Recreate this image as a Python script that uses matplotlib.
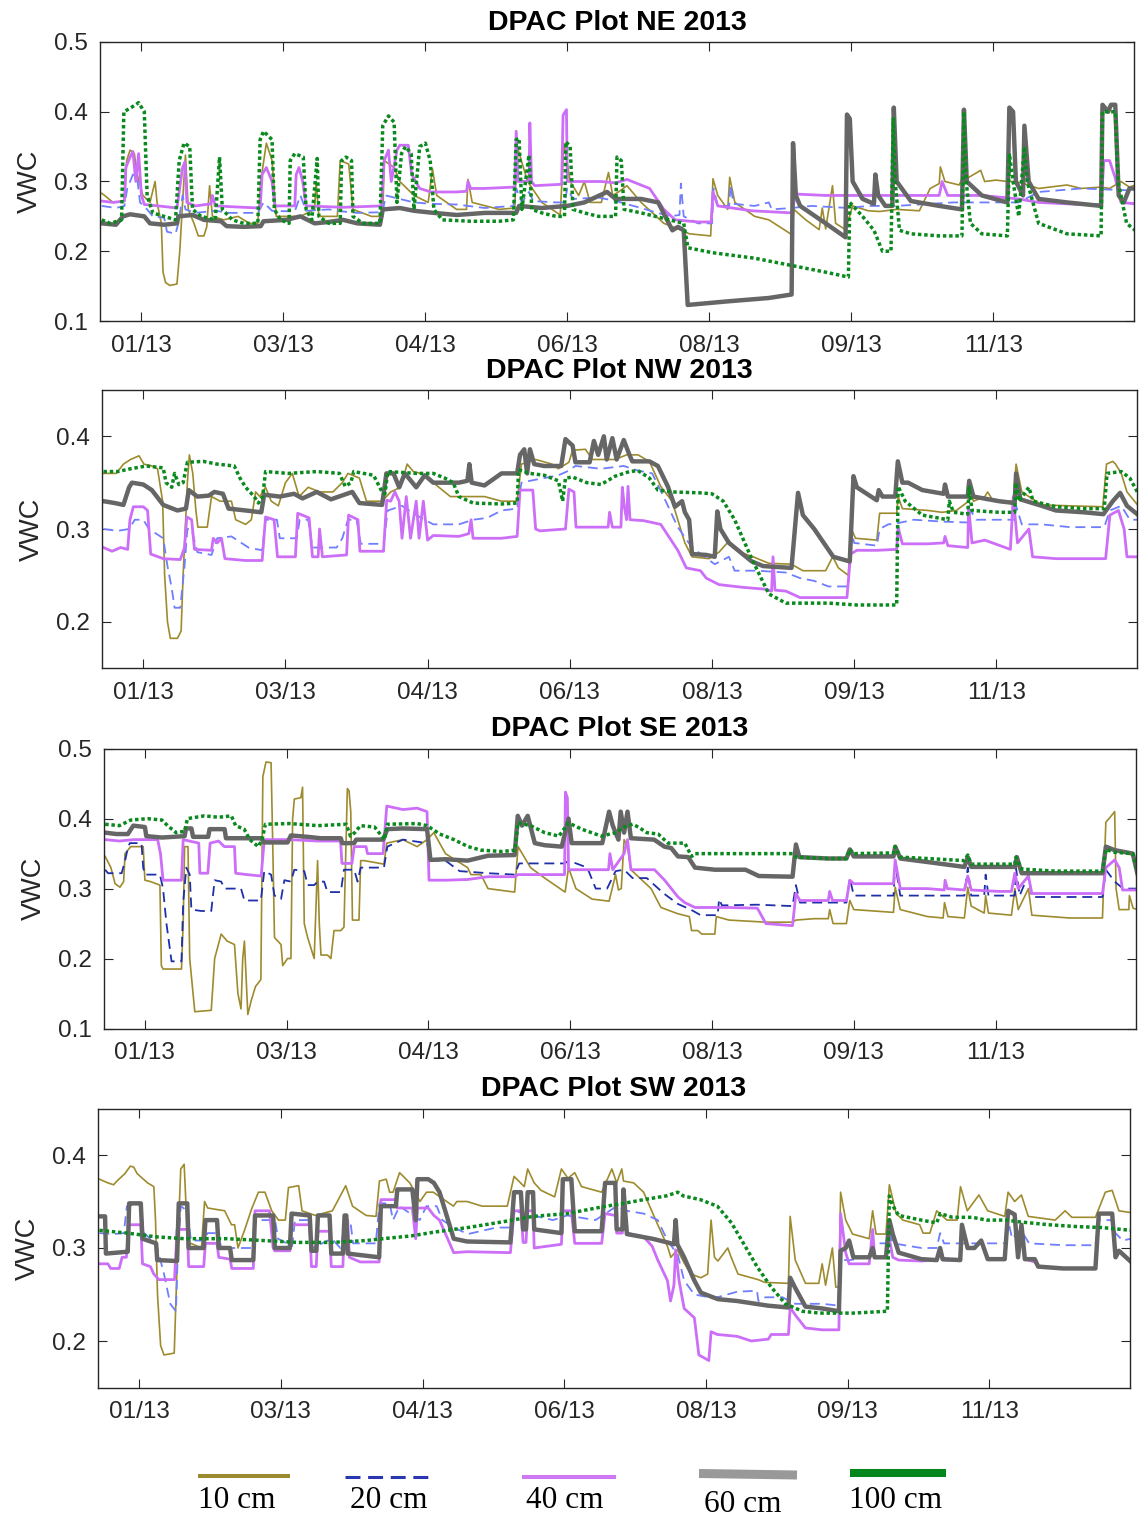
import numpy as np
import matplotlib
matplotlib.use("Agg")
import matplotlib.pyplot as plt
import matplotlib.dates as mdates
from matplotlib.lines import Line2D
from matplotlib.ticker import FixedLocator

# ---------------------------------------------------------------------------
# Volumetric water content (VWC) by sensor depth, 2013.
# Each series is a list of (day of year counted from 1 Jan 2013, VWC).
# ---------------------------------------------------------------------------
DEPTH_LABELS = ["10 cm", "20 cm", "40 cm", "60 cm", "100 cm"]
PLOT_TITLES = ["DPAC Plot NE 2013", "DPAC Plot NW 2013",
               "DPAC Plot SE 2013", "DPAC Plot SW 2013"]
X_TICK_LABELS = ["01/13", "03/13", "04/13", "06/13", "08/13", "09/13", "11/13"]
Y_TICKS_WIDE = [0.1, 0.2, 0.3, 0.4, 0.5]
Y_TICKS_NARROW = [0.2, 0.3, 0.4]

# ----------------------------- Plot NE -------------------------------------
NE_10 = [(0,0.283),(1,0.28),(4,0.27),(8,0.272),(8.8,0.33),(10,0.345),(11.5,0.34),(12.5,0.31),(14.5,0.28),(17,0.27),
         (18.8,0.3),(19.5,0.27),(21,0.24),(21.6,0.17),(22.5,0.155),(24,0.151),(26.5,0.153),(27.5,0.2),(28.2,0.25),(29.5,0.338),
         (30.5,0.26),(32.5,0.24),(34,0.222),(36,0.222),(37,0.235),(38,0.294),(39,0.25),(43,0.245),(48,0.25),(52,0.24),
         (55,0.24),(56,0.3),(58,0.355),(60,0.33),(61.5,0.25),(66,0.25),(70,0.25),(75,0.26),(75.5,0.3),(76.5,0.25),
         (83,0.25),(84,0.33),(87,0.325),(88.5,0.26),(95,0.25),(99,0.25),(99.5,0.33),(103,0.32),(105,0.3),(110,0.28),
         (115,0.27),(116.5,0.318),(118,0.28),(125,0.26),(128.5,0.26),(129,0.303),(130.5,0.27),(140,0.26),(145.5,0.262),(146.2,0.352),
         (150,0.3),(155,0.27),(161.5,0.252),(162.8,0.355),(165,0.3),(168,0.28),(170,0.3),(172,0.27),(176,0.27),(178.5,0.313),
         (180,0.28),(182,0.285),(185,0.294),(190,0.27),(198,0.24),(203,0.232),(207,0.225),(214.5,0.222),(215.3,0.304),(217,0.28),
         (220.5,0.26),(221.2,0.306),(223,0.27),(230,0.25),(235,0.245),(243,0.224),(243.8,0.26),(248,0.245),(252.7,0.231),(253.8,0.262),
         (255,0.232),(257.4,0.294),(258.5,0.24),(262,0.231),(264.5,0.265),(270,0.258),(274,0.257),(280,0.26),(288,0.258),(291.8,0.29),
         (295,0.297),(295.4,0.321),(297,0.3),(302,0.295),(303.7,0.309),(305,0.305),(309.6,0.316),(311,0.3),(315,0.302),(319,0.3),
         (321,0.3),(324,0.298),(330,0.29),(340,0.295),(345,0.29),(352,0.292),(355,0.29),(359,0.3),(362,0.292),(364,0.295)]
NE_20 = [(0,0.265),(5,0.262),(8,0.265),(9,0.29),(11,0.31),(12.5,0.305),(13.5,0.27),(16,0.26),(18,0.25),(22,0.248),
         (23,0.228),(26,0.225),(27,0.24),(28.5,0.28),(29.5,0.26),(33,0.255),(40,0.258),(45,0.255),(55,0.255),(57,0.27),
         (60,0.258),(68,0.257),(70,0.28),(72,0.258),(80,0.26),(85,0.257),(90,0.255),(99,0.256),(100,0.28),(105,0.275),
         (110,0.27),(116,0.268),(125,0.267),(135,0.262),(145,0.265),(146,0.29),(148,0.27),(150.5,0.285),(152,0.272),(160,0.27),
         (163,0.27),(164,0.29),(166,0.275),(175,0.277),(181,0.272),(190,0.262),(200,0.25),(203.5,0.252),(204,0.297),(205,0.25),
         (210,0.24),(215,0.24),(215.5,0.29),(217,0.265),(221,0.265),(221.5,0.295),(222.5,0.268),(230,0.265),(235,0.27),(236,0.26),
         (243,0.262),(250,0.265),(263,0.262),(270,0.265),(280,0.265),(300,0.27),(310,0.27),(323,0.27),(330,0.285),(345,0.29),
         (364,0.287)]
NE_40 = [(0,0.272),(4,0.27),(8,0.272),(8.5,0.32),(10,0.335),(11,0.343),(12,0.3),(13,0.34),(14,0.28),(15,0.267),
         (20,0.265),(26.5,0.262),(28.5,0.32),(29.3,0.328),(30,0.27),(33,0.265),(38.5,0.268),(39,0.28),(40,0.265),(50,0.263),
         (55.8,0.262),(56.5,0.31),(58,0.32),(60,0.3),(61,0.265),(68,0.265),(68.5,0.31),(69.5,0.32),(70.8,0.3),(72,0.265),
         (85,0.263),(98.5,0.265),(99.5,0.33),(101,0.345),(102,0.3),(104,0.345),(105,0.352),(108,0.352),(109.2,0.31),(112,0.29),
         (116,0.285),(125,0.285),(128.5,0.286),(129,0.3),(130,0.29),(134.5,0.29),(145.5,0.292),(146,0.372),(146.6,0.3),(150.5,0.3),
         (150.8,0.384),(151.4,0.3),(152.5,0.294),(162,0.296),(162.5,0.395),(163.7,0.403),(164,0.3),(176,0.3),(181,0.298),(185,0.303),
         (193,0.29),(198,0.26),(202,0.245),(210,0.242),(214.7,0.242),(215.3,0.285),(217,0.265),(229,0.258),(243,0.255),(244.5,0.282),
         (255,0.28),(265,0.28),(280,0.28),(295,0.28),(296,0.3),(298,0.28),(310,0.28),(323,0.275),(330,0.27),(345,0.267),
         (352,0.267),(353,0.33),(355,0.33),(357,0.305),(359,0.27),(364,0.268)]
NE_60 = [(0,0.24),(5,0.238),(7.5,0.25),(10,0.253),(15,0.25),(17,0.24),(22,0.238),(26.5,0.24),(27,0.25),(32,0.252),
         (36,0.245),(42,0.243),(44,0.236),(50,0.235),(56,0.236),(57,0.243),(65,0.245),(70,0.25),(75,0.24),(80,0.242),
         (85,0.245),(90,0.24),(98,0.238),(99,0.26),(105,0.262),(110,0.258),(117,0.255),(125,0.252),(135,0.255),(146,0.255),
         (147,0.265),(155,0.262),(164,0.265),(170,0.27),(178,0.285),(181,0.275),(190,0.275),(196,0.27),(201,0.23),(203,0.235),
         (205,0.23),(206.4,0.123),(220,0.128),(235,0.133),(243,0.138),(243.5,0.355),(244.5,0.28),(246,0.265),(255,0.24),(262,0.22),
         (262.5,0.396),(263.5,0.39),(264.5,0.3),(268,0.275),(272,0.268),(272.5,0.31),(273.5,0.28),(276,0.265),(278.5,0.265),(279,0.406),
         (280,0.3),(285,0.272),(295,0.265),(303,0.26),(303.7,0.403),(304.7,0.3),(310,0.28),(319,0.27),(319.7,0.406),(321,0.4),
         (322,0.3),(324.5,0.28),(325,0.38),(326.5,0.3),(330,0.275),(340,0.27),(352,0.265),(352.5,0.41),(354.5,0.40),(355.5,0.41),
         (357,0.41),(358.2,0.28),(360,0.27),(362,0.29),(364,0.29)]
NE_100 = [(0,0.245),(3,0.24),(7,0.245),(7.8,0.40),(10,0.405),(13,0.413),(15,0.40),(16,0.28),(18,0.255),(22,0.25),
          (26,0.245),(27.3,0.33),(29,0.355),(31,0.35),(32,0.26),(35,0.25),(40,0.245),(41.5,0.335),(42.5,0.26),(46,0.245),
          (50,0.24),(55,0.24),(55.8,0.36),(57,0.372),(60,0.36),(60.8,0.26),(63,0.245),(66,0.24),(66.4,0.33),(68,0.34),
          (71,0.335),(72,0.26),(74,0.245),(75.9,0.333),(76.5,0.25),(80,0.24),(84,0.24),(84.5,0.33),(86,0.335),(88,0.33),
          (88.5,0.25),(92,0.24),(98,0.24),(99,0.38),(101,0.394),(103,0.385),(104,0.27),(105.6,0.34),(107,0.35),(109,0.34),
          (110,0.26),(112,0.35),(114,0.355),(115.7,0.33),(117,0.26),(120,0.245),(130,0.243),(140,0.243),(145,0.245),(146,0.36),
          (147,0.362),(148,0.26),(150.5,0.338),(151.5,0.26),(155,0.255),(160,0.25),(163,0.25),(163.5,0.357),(165,0.35),(166,0.26),
          (170,0.255),(175,0.25),(181,0.25),(181.5,0.335),(183,0.33),(184,0.26),(190,0.255),(200,0.245),(205,0.24),(206.5,0.205),
          (215,0.198),(230,0.19),(245,0.178),(255,0.17),(263,0.163),(263.5,0.27),(268,0.25),(272,0.23),(275,0.2),(278,0.2),
          (278.8,0.39),(279.5,0.3),(281,0.23),(285,0.225),(295,0.222),(303,0.222),(303.7,0.40),(304.5,0.3),(306,0.24),(310,0.225),
          (319,0.222),(319.7,0.34),(321,0.3),(323,0.25),(325,0.35),(326,0.3),(330,0.24),(340,0.225),(352,0.222),(352.5,0.40),
          (357,0.40),(358,0.3),(361,0.24),(364,0.23)]

# ----------------------------- Plot NW -------------------------------------
NW_10 = [(0,0.36),(4.5,0.36),(7,0.37),(9.5,0.375),(12.5,0.379),(14.2,0.37),(17,0.368),(19,0.365),(20.8,0.33),(21.5,0.25),
         (22.5,0.2),(23.5,0.182),(26,0.182),(27.3,0.19),(28,0.25),(29.5,0.35),(30.2,0.38),(31.4,0.36),(32.5,0.32),(33.2,0.302),
         (36.5,0.302),(38,0.335),(41,0.33),(45,0.33),(46.5,0.31),(50,0.305),(52,0.31),(53.5,0.34),(55,0.335),(57,0.345),
         (59,0.33),(61.5,0.325),(64,0.35),(66.4,0.36),(68.8,0.335),(72,0.345),(76,0.34),(80.7,0.34),(84,0.35),(86,0.36),
         (90,0.355),(92.5,0.33),(98,0.33),(101,0.34),(104.5,0.345),(106.8,0.37),(109,0.362),(111.5,0.36),(116,0.35),(120,0.34),
         (122,0.335),(128,0.335),(134,0.335),(140,0.33),(145.5,0.33),(147,0.37),(152,0.375),(157.8,0.37),(160,0.365),(163.7,0.372),
         (165,0.385),(169.5,0.386),(172,0.375),(180,0.375),(184,0.38),(188,0.38),(192,0.373),(196,0.346),(200,0.33),(202,0.31),
         (204.5,0.285),(207,0.27),(213,0.268),(216.5,0.275),(220,0.287),(223.8,0.275),(228.5,0.27),(234,0.263),(242,0.262),(246,0.255),
         (254,0.255),(256.5,0.27),(258.5,0.258),(262,0.25),(262.8,0.302),(264.5,0.29),(272,0.288),(273,0.317),(279,0.317),(279.5,0.335),
         (281,0.322),(290,0.32),(295,0.318),(300,0.32),(304.3,0.33),(305,0.342),(306,0.33),(310,0.335),(311,0.34),(313,0.33),
         (320,0.33),(321,0.37),(323,0.34),(330,0.326),(340,0.325),(351.5,0.324),(352.8,0.37),(355,0.373),(356,0.37),(358,0.36),
         (360,0.34),(364,0.325)]
NW_20 = [(0,0.3),(5,0.298),(9,0.3),(11,0.31),(14,0.31),(16,0.3),(21,0.29),(22.5,0.26),(24,0.236),(25,0.215),
         (27,0.215),(28.5,0.26),(29.5,0.3),(31,0.3),(33,0.275),(38,0.272),(40,0.29),(45,0.292),(51,0.28),(55.8,0.277),
         (57,0.31),(61,0.31),(62,0.29),(68,0.29),(69,0.31),(72,0.31),(73.5,0.28),(82,0.28),(84,0.29),(86,0.31),
         (89,0.31),(90.5,0.284),(98.5,0.284),(100,0.32),(105,0.325),(110,0.315),(116,0.305),(125,0.305),(130,0.31),(135,0.312),
         (140,0.32),(145.5,0.322),(147,0.35),(150,0.352),(155,0.355),(160,0.358),(163,0.362),(166,0.368),(175,0.365),(183,0.368),
         (188,0.363),(193,0.36),(197,0.335),(202,0.302),(207,0.28),(215,0.262),(220,0.27),(222,0.255),(230,0.255),(240,0.253),
         (245,0.247),(250,0.244),(255,0.238),(262,0.238),(263,0.3),(264,0.285),(272,0.282),(273,0.3),(276,0.305),(279,0.306),
         (285,0.31),(295,0.308),(304,0.307),(305,0.32),(307,0.31),(315,0.31),(320.5,0.31),(321,0.325),(323,0.305),(330,0.305),
         (340,0.302),(352,0.302),(354,0.32),(358,0.325),(361,0.31),(364,0.31)]
NW_40 = [(0,0.28),(3,0.276),(6,0.28),(8.5,0.278),(9.3,0.31),(10.5,0.324),(14,0.324),(15.5,0.32),(16.6,0.273),(21,0.268),
         (27,0.267),(28.5,0.28),(29.3,0.313),(31,0.31),(32,0.278),(38,0.277),(38.6,0.29),(40,0.285),(41.5,0.29),(42.7,0.268),
         (50,0.266),(55.8,0.266),(57,0.313),(60,0.31),(61.2,0.27),(67.5,0.27),(68.3,0.317),(72.3,0.312),(73.5,0.27),(75.5,0.27),
         (76,0.3),(77,0.27),(85.5,0.272),(86.2,0.315),(89.5,0.31),(90.2,0.276),(98.5,0.276),(99.6,0.331),(101,0.33),(102.5,0.34),
         (104,0.33),(105,0.29),(106.5,0.335),(108,0.29),(110,0.33),(111,0.29),(112.5,0.33),(114,0.288),(116,0.293),(125,0.292),
         (128.5,0.295),(129.3,0.31),(130,0.29),(135,0.29),(140,0.29),(145.5,0.292),(146.5,0.342),(151,0.342),(152,0.3),(153.5,0.298),
         (162.5,0.3),(163.7,0.343),(165.5,0.34),(166.2,0.302),(172,0.302),(177.5,0.302),(178,0.318),(179,0.302),(182,0.302),(182.5,0.345),
         (183.2,0.324),(184,0.31),(184.5,0.346),(185.2,0.31),(190,0.309),(196,0.305),(199,0.291),(202,0.277),(205,0.258),(210,0.255),
         (212,0.247),(216.5,0.24),(225,0.237),(233,0.235),(235,0.233),(235.5,0.27),(236.2,0.234),(240,0.233),(245,0.226),(255,0.226),
         (261.5,0.226),(262.8,0.273),(265,0.277),(272,0.277),(279,0.278),(279.5,0.302),(281,0.284),(290,0.284),(295.5,0.285),(296,0.292),
         (297,0.282),(304,0.28),(304.3,0.324),(305.5,0.285),(310,0.288),(319,0.278),(320,0.335),(321.5,0.285),(325.5,0.3),(326.8,0.27),
         (335,0.268),(345,0.268),(352.5,0.268),(354,0.315),(357,0.32),(359,0.3),(360,0.27),(364,0.27)]
NW_60 = [(0,0.33),(4,0.328),(7,0.326),(9,0.345),(10,0.35),(14,0.348),(17,0.342),(21,0.326),(26,0.32),(29,0.322),
         (30,0.342),(33,0.335),(37,0.336),(39,0.34),(42,0.338),(44,0.322),(50,0.32),(55.5,0.318),(56.5,0.337),(62,0.335),
         (67,0.338),(70,0.333),(75,0.34),(80,0.332),(87.5,0.34),(90,0.328),(98,0.326),(99.5,0.36),(102,0.36),(104,0.345),
         (106,0.36),(110,0.345),(113,0.358),(116,0.35),(125,0.35),(128,0.352),(128.7,0.37),(129.5,0.35),(134,0.347),(140,0.36),
         (145.5,0.36),(146.5,0.38),(148,0.386),(149,0.36),(150,0.386),(151.5,0.37),(155,0.368),(161,0.368),(162.5,0.397),(165,0.39),
         (166,0.372),(171,0.372),(172.5,0.395),(174,0.38),(176,0.4),(177,0.375),(179,0.398),(180.5,0.375),(183,0.396),(185,0.38),
         (186,0.373),(192,0.373),(195,0.368),(198.5,0.346),(201,0.324),(203.5,0.33),(204.5,0.318),(206,0.31),(207,0.273),(212,0.272),
         (215,0.27),(215.9,0.319),(217,0.3),(220,0.285),(224,0.275),(228,0.265),(232,0.26),(242,0.258),(244.3,0.339),(246,0.315),
         (250,0.3),(256.7,0.27),(262.5,0.265),(263.8,0.357),(265,0.345),(272,0.331),(272.7,0.342),(274,0.335),(278.5,0.335),(279.4,0.373),
         (281,0.35),(283,0.35),(288,0.342),(295.5,0.338),(296,0.348),(297,0.335),(304,0.335),(304.5,0.352),(306,0.335),(315,0.33),
         (320.5,0.328),(321,0.36),(322.5,0.332),(330,0.325),(335,0.32),(345,0.318),(351.7,0.316),(355,0.33),(357.6,0.339),(360,0.325),
         (364,0.315)]
NW_100 = [(0,0.362),(5,0.362),(9.5,0.365),(15,0.368),(21,0.366),(22,0.35),(24,0.345),(25,0.36),(26.5,0.348),(28,0.35),
          (29.5,0.372),(35,0.373),(40,0.37),(46,0.368),(48,0.355),(50,0.345),(53,0.335),(54.5,0.328),(56,0.335),(57,0.362),
          (65,0.36),(75,0.362),(83,0.36),(85,0.346),(87,0.35),(88,0.362),(95,0.358),(98,0.34),(99,0.338),(100,0.362),
          (110,0.36),(116,0.36),(120,0.355),(123,0.35),(125,0.335),(130,0.328),(140,0.327),(145.5,0.328),(146,0.364),(150,0.36),
          (155,0.358),(160,0.352),(161.5,0.33),(162.5,0.355),(165,0.356),(170,0.35),(175,0.348),(180,0.357),(185,0.362),(188,0.363),
          (192,0.355),(195,0.342),(200,0.34),(210,0.339),(214,0.338),(218,0.33),(222,0.31),(228,0.268),(234,0.23),(240,0.22),
          (255,0.22),(265,0.218),(279,0.218),(279.5,0.346),(282,0.33),(288,0.315),(297,0.31),(297.5,0.33),(299,0.318),(304,0.316),
          (304.5,0.345),(305.5,0.32),(315,0.318),(320.5,0.318),(321,0.35),(322,0.33),(325.5,0.345),(327,0.33),(335,0.324),(345,0.322),
          (352,0.322),(353,0.36),(358,0.362),(361,0.355),(364,0.338)]

# ----------------------------- Plot SE -------------------------------------
SE_10 = [(0,0.346),(2,0.33),(3.5,0.307),(5.2,0.302),(6.5,0.31),(7,0.35),(9,0.36),(13.4,0.36),(14,0.312),(16,0.31),
         (19.3,0.305),(19.8,0.19),(20.4,0.185),(26.9,0.185),(27.5,0.25),(28,0.36),(29.2,0.36),(29.8,0.2),(31.6,0.124),(37.4,0.126),
         (38.6,0.2),(40.9,0.235),(43,0.225),(45.6,0.22),(46.8,0.15),(47.9,0.128),(48.5,0.2),(49.1,0.225),(50.3,0.12),(51.5,0.14),
         (53,0.16),(54.9,0.17),(55.6,0.46),(56.7,0.481),(58.5,0.48),(59.1,0.36),(59.7,0.23),(62,0.22),(62.6,0.19),(64.3,0.2),
         (65.5,0.2),(66.1,0.4),(66.7,0.428),(69,0.43),(69.6,0.445),(70.2,0.25),(71.4,0.23),(73.7,0.2),(74.9,0.34),(75.5,0.25),
         (76.1,0.205),(78.4,0.205),(79.6,0.2),(80.7,0.24),(83.1,0.24),(84.2,0.245),(85.4,0.443),(86,0.44),(86.6,0.41),(87.2,0.255),
         (89.5,0.255),(90.1,0.34),(91.3,0.34),(98.3,0.335),(99.3,0.365),(105,0.37),(110,0.36),(113.5,0.37),(115.9,0.38),(120,0.35),
         (127.8,0.33),(129,0.32),(132.5,0.32),(135,0.3),(144.4,0.295),(145.6,0.36),(150,0.33),(155,0.315),(162.2,0.295),(163.4,0.33),
         (166,0.3),(171.7,0.285),(177.7,0.282),(180,0.32),(181,0.298),(182,0.3),(183,0.37),(184.2,0.36),(185.4,0.327),(192.5,0.3),
         (196,0.273),(202,0.264),(206,0.26),(206.8,0.24),(209,0.24),(210.4,0.235),(215,0.235),(215.5,0.26),(220,0.255),(233,0.252),
         (242.4,0.252),(243.6,0.255),(250,0.257),(255,0.257),(255.5,0.27),(256.7,0.25),(261.4,0.25),(262.6,0.283),(264,0.27),(278,0.266),
         (278.6,0.302),(280.4,0.27),(290,0.26),(295.5,0.258),(296,0.28),(297.2,0.26),(303,0.258),(304.2,0.302),(305.4,0.275),(310,0.265),
         (310.5,0.29),(311.5,0.265),(319.6,0.262),(320.8,0.3),(322,0.27),(325.6,0.3),(326.8,0.262),(340,0.258),(351.7,0.258),(352.9,0.395),
         (354,0.4),(356,0.41),(356.5,0.3),(357.6,0.27),(361,0.27),(361.2,0.29),(362.5,0.272),(364,0.27)]
SE_20 = [(0,0.327),(1,0.322),(5.8,0.322),(7,0.34),(8.1,0.36),(8.7,0.365),(12.8,0.365),(13.4,0.33),(14,0.32),(19.3,0.32),
         (20.4,0.3),(21.6,0.25),(23.4,0.196),(26.9,0.196),(27.5,0.28),(28.6,0.33),(29.8,0.32),(30.4,0.27),(33.9,0.268),(37.4,0.268),
         (38.6,0.312),(40.9,0.31),(42.1,0.3),(47.9,0.3),(49.1,0.283),(54.9,0.283),(56.1,0.325),(58.5,0.32),(59.7,0.29),(62,0.285),
         (63.2,0.312),(65.5,0.31),(66.7,0.327),(70.2,0.325),(71.4,0.305),(73.7,0.305),(74.9,0.31),(77.2,0.31),(78.4,0.295),(83.1,0.295),
         (84.2,0.327),(87.8,0.327),(89,0.31),(90.1,0.33),(98.3,0.33),(99.5,0.36),(105,0.37),(113.5,0.365),(115,0.34),(120,0.34),
         (125,0.325),(135,0.322),(144.4,0.32),(146,0.336),(155,0.336),(162,0.336),(163.5,0.34),(170,0.33),(173,0.3),(177,0.3),
         (180,0.325),(183,0.327),(186,0.315),(191,0.315),(197,0.293),(202,0.278),(206.5,0.27),(210,0.262),(216,0.262),(216.5,0.285),
         (217.5,0.276),(230,0.277),(242.4,0.275),(243.6,0.305),(245,0.28),(261.4,0.28),(262.6,0.315),(264,0.29),(278,0.29),(278.6,0.335),
         (280.4,0.29),(303,0.29),(304.2,0.33),(305.4,0.29),(310,0.29),(310.5,0.32),(311.5,0.29),(320.8,0.29),(321.2,0.33),(322.5,0.29),
         (325.6,0.32),(326.8,0.288),(351.7,0.288),(352.9,0.327),(356,0.31),(359,0.3),(364,0.3)]
SE_40 = [(0,0.37),(5,0.368),(10,0.37),(18.5,0.37),(19.5,0.35),(20.4,0.312),(26.9,0.312),(27.5,0.37),(33,0.365),(33.4,0.322),
         (36.2,0.322),(37,0.365),(40,0.368),(42,0.36),(45.6,0.36),(46,0.322),(50,0.32),(55,0.318),(56.1,0.37),(65,0.37),
         (75,0.368),(83,0.368),(83.5,0.336),(87,0.336),(87.8,0.36),(92,0.36),(92.5,0.35),(98,0.35),(99.3,0.418),(105,0.413),
         (110,0.415),(113.5,0.41),(114.2,0.312),(120,0.312),(127.8,0.313),(135,0.317),(144.4,0.317),(145.6,0.32),(155,0.32),(162,0.32),
         (162.3,0.438),(163,0.43),(163.4,0.327),(170,0.327),(177.5,0.327),(178,0.35),(179,0.327),(183,0.35),(184.2,0.37),(185.4,0.327),
         (193.7,0.327),(197.3,0.312),(202,0.288),(204.4,0.28),(208,0.273),(220,0.273),(230,0.272),(233,0.25),(242.4,0.247),(243.6,0.293),
         (245,0.283),(255,0.283),(255.5,0.296),(256.5,0.283),(261.4,0.283),(262.6,0.312),(264,0.307),(278,0.307),(278.6,0.341),(280.4,0.3),
         (290,0.3),(295.9,0.298),(296.2,0.312),(297,0.3),(303,0.298),(304.2,0.318),(305.4,0.298),(315,0.296),(319.6,0.296),(320.8,0.322),
         (322,0.3),(325.6,0.318),(326.8,0.293),(340,0.293),(351.7,0.293),(352.9,0.33),(356,0.341),(357.6,0.33),(358.8,0.298),(364,0.298)]
SE_60 = [(0,0.38),(4,0.378),(8,0.378),(9.9,0.39),(14,0.388),(14.5,0.375),(20,0.373),(28,0.375),(28.5,0.386),(30.4,0.386),
         (31,0.374),(36.3,0.374),(36.8,0.385),(42.1,0.385),(42.6,0.372),(50,0.372),(54.9,0.372),(56.1,0.366),(64.3,0.366),(65.5,0.376),
         (71.4,0.374),(76,0.372),(83.1,0.372),(83.6,0.365),(87.8,0.365),(88.5,0.37),(98,0.37),(99.5,0.385),(105,0.386),(113.5,0.385),
         (114.7,0.341),(120,0.342),(127.8,0.34),(135,0.347),(144.4,0.348),(145.5,0.404),(147,0.39),(149,0.404),(151.5,0.365),(155,0.362),
         (161,0.36),(163.4,0.4),(164.5,0.365),(170,0.365),(175.3,0.365),(177.7,0.41),(179,0.39),(181,0.37),(181.8,0.41),(183,0.38),
         (184.2,0.41),(185.4,0.372),(193.6,0.37),(197.2,0.36),(199.6,0.358),(202,0.346),(205.6,0.345),(208,0.33),(215,0.327),(225.8,0.327),
         (230.5,0.318),(242.4,0.317),(243.6,0.363),(244.8,0.345),(255,0.343),(261.4,0.343),(262.6,0.356),(264,0.346),(278,0.346),(278.6,0.36),
         (280.4,0.343),(290,0.338),(303,0.331),(304.2,0.345),(305.4,0.331),(320.8,0.331),(321.5,0.345),(323.2,0.322),(340,0.322),(351.7,0.322),
         (352.9,0.36),(356,0.355),(362.4,0.35),(364,0.322)]
SE_100 = [(0,0.392),(5,0.39),(9,0.398),(15,0.4),(20,0.398),(22,0.39),(25,0.38),(28,0.382),(29,0.4),(35,0.404),
          (40,0.402),(44.5,0.404),(46,0.39),(49,0.385),(51,0.37),(54,0.36),(55.3,0.37),(56.5,0.392),(65,0.393),(75,0.39),
          (85,0.392),(86.5,0.375),(88,0.38),(90,0.39),(95,0.388),(98.5,0.37),(99.5,0.392),(110,0.393),(113.5,0.39),(118,0.378),
          (123,0.37),(128,0.36),(132.5,0.355),(140,0.353),(144.5,0.355),(145.6,0.394),(150,0.39),(155,0.38),(160,0.375),(163.4,0.394),
          (168,0.385),(175,0.375),(180,0.38),(183,0.388),(186,0.392),(188,0.388),(191,0.38),(195,0.378),(198.5,0.365),(204.4,0.365),
          (206.8,0.346),(208,0.35),(220,0.35),(230,0.35),(242.4,0.35),(243.6,0.345),(255,0.343),(261.4,0.343),(262.6,0.356),(264,0.35),
          (278,0.351),(278.6,0.36),(280.4,0.345),(290,0.343),(303,0.34),(304.2,0.348),(305.4,0.335),(315,0.335),(320.8,0.335),(321.2,0.345),
          (323.2,0.328),(335,0.325),(351.7,0.325),(352.9,0.356),(356,0.352),(362.4,0.35),(364,0.325)]

# ----------------------------- Plot SW -------------------------------------
SW_10 = [(0,0.374),(3,0.37),(5,0.368),(6.2,0.372),(9,0.38),(10.9,0.388),(12.1,0.387),(13.3,0.38),(17,0.37),(19.2,0.366),
         (19.8,0.33),(20.5,0.25),(21.6,0.195),(22.8,0.185),(26.4,0.187),(27.6,0.3),(28.7,0.385),(29.9,0.39),(30.5,0.35),(31.1,0.3),
         (32.3,0.305),(36,0.3),(37.1,0.35),(38.2,0.343),(44.2,0.34),(46.6,0.325),(47.7,0.325),(48.9,0.3),(51.3,0.32),(53.7,0.342),
         (56.1,0.36),(58.4,0.36),(60.8,0.34),(63.2,0.33),(65.6,0.33),(66.7,0.365),(70.3,0.367),(71.5,0.34),(76.2,0.335),(82.2,0.34),
         (86.9,0.367),(89.3,0.345),(94.1,0.335),(97.6,0.334),(98.8,0.372),(101.2,0.374),(102.4,0.36),(103.6,0.36),(105.9,0.381),(109.5,0.37),
         (113.1,0.35),(115.4,0.36),(117.8,0.36),(124.9,0.345),(126.1,0.35),(129.7,0.35),(135,0.345),(143.9,0.345),(146.3,0.377),(149.9,0.366),
         (151.1,0.385),(153.4,0.37),(155.8,0.362),(160.6,0.355),(163,0.385),(165.3,0.375),(167.7,0.381),(170.1,0.366),(177.2,0.36),(180.8,0.385),
         (182.5,0.37),(184.3,0.385),(184.9,0.372),(188.5,0.37),(192,0.36),(196.7,0.327),(200.4,0.302),(201.6,0.29),(203.9,0.298),(206.3,0.284),
         (208.7,0.272),(212.2,0.268),(214.6,0.272),(215.8,0.33),(217,0.29),(218.2,0.286),(221.7,0.3),(222.9,0.29),(225.3,0.272),(232.4,0.266),
         (234.8,0.263),(243.1,0.262),(243.7,0.334),(245.5,0.287),(249.1,0.262),(253.8,0.262),(255,0.283),(256.2,0.26),(258.6,0.3),(259.8,0.258),
         (260.9,0.258),(261.5,0.36),(263.3,0.33),(265.7,0.315),(271.6,0.31),(272.8,0.34),(274,0.315),(277.5,0.315),(278.7,0.368),(281.1,0.337),
         (283.5,0.33),(289.4,0.325),(290.6,0.316),(293,0.316),(295.4,0.34),(299,0.33),(302.6,0.33),(303.8,0.366),(306.2,0.34),(310.3,0.357),
         (313.4,0.34),(319.4,0.334),(320.6,0.36),(322.9,0.35),(325.3,0.357),(327.7,0.334),(337.2,0.33),(340.7,0.34),(343.1,0.333),(351.4,0.333),
         (354.9,0.36),(357.3,0.362),(359.7,0.34),(364,0.338)]
SW_20 = [(0,0.316),(5,0.315),(8.6,0.316),(9.7,0.345),(14.5,0.348),(15.7,0.316),(20,0.305),(22.8,0.272),(25,0.24),(27,0.232),
         (27.6,0.29),(28.7,0.345),(31,0.34),(32.3,0.308),(37,0.308),(38.2,0.316),(41.8,0.316),(43,0.3),(54.5,0.3),(55,0.33),
         (62,0.33),(63,0.31),(68,0.302),(69,0.33),(74,0.33),(75,0.3),(82,0.31),(85,0.3),(87,0.33),(88.5,0.33),
         (89.5,0.305),(97.5,0.305),(98.8,0.348),(102.4,0.348),(103.6,0.33),(105.9,0.345),(113,0.33),(115.4,0.345),(119,0.345),(121,0.33),
         (125,0.322),(130,0.315),(140,0.322),(145,0.322),(146.3,0.34),(153,0.335),(160,0.33),(165,0.335),(175,0.33),(182.5,0.345),
         (186,0.34),(192,0.337),(197,0.33),(200.4,0.308),(204,0.293),(206.3,0.265),(209.9,0.25),(215,0.247),(218,0.247),(225,0.253),
         (232,0.254),(232.5,0.243),(235,0.247),(241,0.247),(243.5,0.243),(245.5,0.24),(255,0.24),(261,0.238),(261.5,0.287),(265,0.287),
         (270,0.29),(272,0.29),(273,0.305),(277.5,0.305),(278.7,0.316),(280,0.305),(290,0.3),(295.4,0.3),(296.6,0.316),(298,0.305),
         (310,0.305),(319.4,0.305),(320.6,0.33),(322,0.31),(325,0.32),(328,0.305),(340,0.303),(351.4,0.303),(352.6,0.33),(357,0.33),
         (358.5,0.316),(361,0.308),(364,0.31)]
SW_40 = [(0,0.283),(3,0.283),(4,0.278),(7,0.278),(8,0.29),(9.5,0.29),(10.5,0.325),(14.6,0.325),(15.2,0.283),(18,0.28),
         (19.2,0.272),(21,0.266),(26.5,0.266),(27.4,0.32),(31,0.32),(31.5,0.28),(36.8,0.28),(37.4,0.305),(41.5,0.305),(42.1,0.29),
         (46.1,0.288),(46.7,0.278),(54.3,0.278),(54.9,0.34),(60,0.34),(61.3,0.3),(61.9,0.297),(67.2,0.297),(67.8,0.325),(74.2,0.325),
         (74.8,0.28),(76.5,0.28),(77.1,0.318),(81.2,0.318),(81.8,0.28),(85.9,0.28),(86.5,0.33),(87.6,0.33),(88.2,0.29),(92,0.285),
         (98.7,0.285),(99.3,0.352),(104.6,0.352),(105.1,0.343),(110.4,0.343),(111.6,0.31),(112.2,0.343),(116,0.343),(118,0.335),(120,0.33),
         (125,0.295),(129.7,0.296),(145,0.295),(146.3,0.34),(148.7,0.34),(149.5,0.306),(150.5,0.306),(151.1,0.34),(153,0.34),(153.4,0.3),
         (163,0.304),(163.5,0.34),(166.5,0.34),(167.7,0.305),(177.2,0.305),(178.4,0.337),(182,0.335),(182.5,0.316),(184.5,0.316),(184.9,0.335),
         (186.1,0.316),(192,0.312),(195,0.302),(197,0.287),(200.4,0.265),(201.5,0.243),(202.7,0.26),(203.3,0.298),(204.5,0.265),(206.3,0.235),
         (209.9,0.225),(211.5,0.185),(215,0.179),(215.8,0.21),(218,0.207),(225,0.205),(230,0.2),(236,0.202),(237,0.207),(243.1,0.207),
         (243.7,0.236),(245.5,0.228),(249.1,0.214),(255,0.212),(260.9,0.212),(261.5,0.337),(263.3,0.295),(264.5,0.283),(271.6,0.283),(272.8,0.32),
         (273.5,0.29),(277.5,0.29),(278.7,0.31),(279.9,0.29),(282,0.287),(290,0.286),(295.4,0.287),(296.6,0.3),(297.5,0.287),(303.7,0.287),
         (304.3,0.325),(306.3,0.3),(308.7,0.3),(311.1,0.308),(313.4,0.288),(319.4,0.288),(320.6,0.34),(322.9,0.336),(324.1,0.29),(325.3,0.325),
         (326.5,0.288),(330,0.285),(331.2,0.28),(340,0.278),(351.4,0.278),(352.6,0.337),(357.3,0.337),(358.5,0.29),(359.7,0.297),(364,0.285)]
SW_60 = [(0,0.334),(2,0.334),(2.3,0.294),(10,0.296),(10.5,0.348),(14.6,0.348),(15.2,0.31),(20,0.305),(20.4,0.287),(27.4,0.286),
         (28,0.348),(31,0.348),(31.5,0.3),(36.8,0.3),(37.4,0.33),(41.5,0.33),(42.1,0.3),(46.1,0.3),(46.7,0.287),(54.3,0.287),
         (54.9,0.335),(61.3,0.335),(61.9,0.3),(67.2,0.3),(67.8,0.337),(74.2,0.335),(74.8,0.297),(76.5,0.297),(77.1,0.335),(81.2,0.335),
         (81.8,0.294),(85.9,0.294),(86.5,0.335),(87.1,0.335),(87.6,0.294),(98.7,0.29),(99.3,0.345),(104.6,0.345),(105.1,0.363),(110.4,0.363),
         (111.6,0.33),(112.2,0.374),(116,0.374),(118,0.37),(120,0.36),(125,0.31),(129.7,0.307),(145,0.306),(146.3,0.36),(148.7,0.36),
         (149.5,0.32),(150.5,0.32),(151.1,0.36),(153,0.36),(153.4,0.32),(163,0.316),(163.5,0.374),(166.5,0.374),(167.7,0.318),(177.2,0.318),
         (178.4,0.37),(182,0.37),(182.5,0.32),(184.5,0.32),(184.9,0.363),(186.1,0.315),(195,0.31),(200.4,0.306),(202.7,0.304),(203.3,0.33),
         (203.9,0.304),(206.3,0.29),(209.9,0.265),(212.2,0.252),(218.2,0.245),(225,0.243),(235.9,0.238),(243.1,0.236),(243.7,0.268),(245.5,0.257),
         (249.1,0.237),(255,0.235),(260.9,0.232),(261.5,0.297),(263.3,0.3),(264.5,0.308),(266,0.29),(271.6,0.29),(272.8,0.3),(273.5,0.29),
         (277.5,0.29),(278.7,0.33),(279.9,0.315),(282,0.295),(290,0.288),(295.4,0.287),(296.6,0.3),(297.5,0.288),(303.7,0.287),(304.3,0.325),
         (306.3,0.3),(308.7,0.3),(311.1,0.308),(313.4,0.288),(319.4,0.288),(320.6,0.34),(322.9,0.336),(324.1,0.29),(325.3,0.325),(326.5,0.288),
         (330,0.288),(331.2,0.28),(340,0.278),(351.4,0.278),(352.6,0.337),(357.3,0.337),(358.5,0.29),(359.7,0.297),(364,0.285)]
SW_100 = [(0,0.319),(10,0.316),(20,0.312),(30,0.31),(45,0.31),(58,0.308),(70,0.306),(82,0.306),(94,0.308),(100,0.31),
          (110,0.313),(118,0.317),(130,0.322),(142,0.328),(153,0.334),(165,0.337),(177,0.344),(185,0.348),(192,0.352),(200,0.356),
          (204,0.36),(206,0.356),(212,0.352),(218,0.345),(223,0.327),(228,0.301),(232,0.28),(237,0.258),(242,0.24),(248,0.232),
          (254,0.23),(266,0.23),(278,0.232),(278.7,0.356),(280,0.345),(282,0.335),(290,0.33),(295.4,0.327),(296.6,0.337),(301,0.333),
          (308,0.333),(313,0.33),(320,0.33),(325,0.328),(335,0.325),(345,0.323),(353.6,0.322),(364,0.319)]

# ---------------------------------------------------------------------------
W_PX, H_PX, DPI = 1144, 1521, 100
START = np.datetime64("2013-01-01T00:00")
TICK_START = np.datetime64("2013-01-15T00:00")
TICK_STEP = np.timedelta64(50, "D")

SANS = ["Liberation Sans", "DejaVu Sans"]
SERIF = ["Liberation Serif", "DejaVu Serif"]
INK = "#262626"

OLIVE = "#9E8B2E"
VIOLET = "#CC6EF7"
GRAY = "#666666"
GREEN = "#0A8A1E"


def as_dates(days):
    minutes = np.round(np.asarray(days, dtype=float) * 1440.0).astype("int64")
    return START + minutes.astype("timedelta64[m]")


def fig_rect(left, top, right, bottom):
    """Pixel box -> figure fraction [x0, y0, w, h]."""
    return [left / W_PX, 1 - bottom / H_PX, (right - left) / W_PX, (bottom - top) / H_PX]


panels = [
    dict(title=PLOT_TITLES[0], series=[NE_10, NE_20, NE_40, NE_60, NE_100], blue="#6F7EFF",
         box=(100, 42, 1134, 321), ylim=(0.1, 0.5), yticks=Y_TICKS_WIDE),
    dict(title=PLOT_TITLES[1], series=[NW_10, NW_20, NW_40, NW_60, NW_100], blue="#6F7EFF",
         box=(101.8, 390, 1137.2, 668), ylim=(0.15, 0.45), yticks=Y_TICKS_NARROW),
    dict(title=PLOT_TITLES[2], series=[SE_10, SE_20, SE_40, SE_60, SE_100], blue="#1F2FAA",
         box=(103.5, 748.7, 1136.2, 1028.5), ylim=(0.1, 0.5), yticks=Y_TICKS_WIDE),
    dict(title=PLOT_TITLES[3], series=[SW_10, SW_20, SW_40, SW_60, SW_100], blue="#6F7EFF",
         box=(97.7, 1108.5, 1130, 1387.5), ylim=(0.15, 0.45), yticks=Y_TICKS_NARROW),
]

fig = plt.figure(figsize=(W_PX / DPI, H_PX / DPI), dpi=DPI)
fig.patch.set_facecolor("white")

tick_dates = TICK_START + np.arange(len(X_TICK_LABELS)) * TICK_STEP
tick_nums = mdates.date2num(tick_dates)

for p in panels:
    ax = fig.add_axes(fig_rect(*p["box"]))
    s10, s20, s40, s60, s100 = [np.array(s) for s in p["series"]]

    ax.plot(as_dates(s10[:, 0]), s10[:, 1], color=OLIVE, lw=1.2)
    ax.plot(as_dates(s20[:, 0]), s20[:, 1], color=p["blue"], lw=1.3, dashes=(5.5, 3.2))
    ax.plot(as_dates(s40[:, 0]), s40[:, 1], color=VIOLET, lw=2.0)
    ax.plot(as_dates(s60[:, 0]), s60[:, 1], color=GRAY, lw=3.2)
    ax.plot(as_dates(s100[:, 0]), s100[:, 1], color=GREEN, lw=2.5, dashes=(1.0, 0.8))

    ax.set_xlim(as_dates([-0.6])[0], as_dates([363.6])[0])
    ax.set_ylim(*p["ylim"])
    ax.xaxis.set_major_locator(FixedLocator(tick_nums))
    ax.set_xticklabels(X_TICK_LABELS)
    ax.set_yticks(p["yticks"])
    ax.set_yticklabels([f"{v:.1f}" for v in p["yticks"]])

    ax.tick_params(axis="both", direction="in", length=6.8, width=0.8, color=INK,
                   top=True, right=True, labelsize=17.5, labelcolor=INK)
    ax.tick_params(axis="x", pad=9.8)
    ax.tick_params(axis="y", pad=8.4)
    for lab in ax.get_xticklabels() + ax.get_yticklabels():
        lab.set_fontfamily(SANS)
    for sp in ax.spines.values():
        sp.set_color(INK)
        sp.set_linewidth(1.0)

    left, top, right, bottom = p["box"]
    fig.text((left + right) / 2 / W_PX, 1 - (top - 12.5) / H_PX, p["title"],
             ha="center", va="baseline", fontsize=20.5, fontweight="bold",
             family=SANS, color="black")
    fig.text((left - 70) / W_PX, 1 - ((top + bottom) / 2) / H_PX, "VWC",
             ha="center", va="center", rotation=90, fontsize=19.5,
             family=SANS, color=INK)

# Depth key along the bottom of the figure
key = [
    dict(x=(198, 290), y=(1476, 1476), color="#9C8A2E", lw=2.9, dashes=None, text=(237, 1500)),
    dict(x=(345, 428), y=(1477, 1477), color="#2B36B3", lw=2.2, dashes=(4.9, 2.5), text=(389, 1500)),
    dict(x=(522, 616), y=(1477, 1477), color="#CF78F4", lw=2.9, dashes=None, text=(565, 1500)),
    dict(x=(699, 797), y=(1473.5, 1475), color="#999999", lw=6.5, dashes=None, text=(743, 1505)),
    dict(x=(850, 946), y=(1473, 1473), color="#04861C", lw=5.8, dashes=None, text=(896, 1500)),
]
for item, label in zip(key, DEPTH_LABELS):
    xs = [v / W_PX for v in item["x"]]
    ys = [1 - v / H_PX for v in item["y"]]
    ln = Line2D(xs, ys, transform=fig.transFigure, color=item["color"], lw=item["lw"],
                solid_capstyle="butt", dash_capstyle="butt")
    if item["dashes"] is not None:
        ln.set_dashes(item["dashes"])
    fig.add_artist(ln)
    fig.text(item["text"][0] / W_PX, 1 - item["text"][1] / H_PX, label,
             ha="center", va="center", fontsize=22.5, family=SERIF, color="black")

fig.savefig("out.png", dpi=DPI, facecolor="white")
